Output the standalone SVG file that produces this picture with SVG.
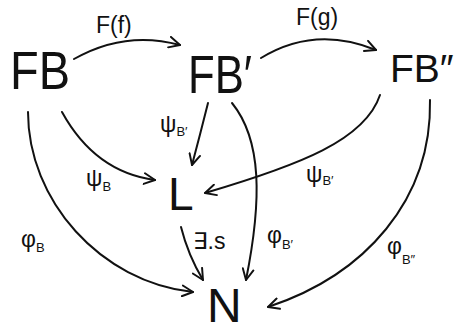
<svg xmlns="http://www.w3.org/2000/svg" width="458" height="335" viewBox="0 0 458 335">
<style>
  .obj { font-family: "Liberation Sans", "DejaVu Sans", sans-serif; fill: #111; }
  .lbl { font-family: "Liberation Sans", "DejaVu Sans", sans-serif; fill: #111; font-size: 23px; }
  .sub { font-size: 13px; }
  .edge { fill: none; stroke: #111; stroke-width: 2; stroke-linecap: round; }
</style>
<defs>
  <marker id="arr" viewBox="0 0 12 12" refX="11" refY="6" markerWidth="13" markerHeight="13" markerUnits="userSpaceOnUse" orient="auto">
    <path d="M1,1 L11,6 L1,11" fill="none" stroke="#111" stroke-width="1.8" stroke-linecap="round" stroke-linejoin="round"/>
  </marker>
</defs>
<rect width="458" height="335" fill="#fff"/>

<g id="edges">
  <path class="edge" marker-end="url(#arr)" d="M74,59 Q125,30 180,45"/>
  <path class="edge" marker-end="url(#arr)" d="M261,58 Q315,25 376,50"/>
  <path class="edge" marker-end="url(#arr)" d="M62,112 Q95,172 155,180"/>
  <path class="edge" marker-end="url(#arr)" d="M208,103 Q200,135 192,165"/>
  <path class="edge" marker-end="url(#arr)" d="M380,95 C365,140 300,165 205,193"/>
  <path class="edge" marker-end="url(#arr)" d="M232,103 C262,140 262,200 246,280"/>
  <path class="edge" marker-end="url(#arr)" d="M181,227 Q188,255 203,280"/>
  <path class="edge" marker-end="url(#arr)" d="M28,112 C28,200 100,282 193,292"/>
  <path class="edge" marker-end="url(#arr)" d="M430,100 C432,200 365,275 268,307"/>
</g>

<g id="FB"><text class="obj" x="10" y="89" font-size="54" textLength="60" lengthAdjust="spacingAndGlyphs">FB</text></g>
<g id="FBp"><text class="obj" x="188" y="93" font-size="54" textLength="64" lengthAdjust="spacingAndGlyphs">FB′</text></g>
<g id="FBpp"><text class="obj" x="390" y="82" font-size="39">FB″</text></g>
<g id="L"><text class="obj" x="168" y="210" font-size="46">L</text></g>
<g id="N"><text class="obj" x="207" y="322" font-size="48">N</text></g>

<g id="labels">
  <text class="lbl" x="96" y="33" font-size="22">F(f)</text>
  <text class="lbl" x="296" y="25" font-size="22">F(g)</text>
  <text class="lbl" x="160" y="132">ψ<tspan class="sub" dy="4">B′</tspan></text>
  <text class="lbl" x="86" y="186">ψ<tspan class="sub" dy="5">B</tspan></text>
  <text class="lbl" x="306" y="182">ψ<tspan class="sub" dy="3">B′</tspan></text>
  <text class="lbl" x="21" y="247">φ<tspan class="sub" dy="5">B</tspan></text>
  <text class="lbl" x="193" y="249" font-size="16">∃.s</text>
  <text class="lbl" x="267" y="243">φ<tspan class="sub" dy="6">B′</tspan></text>
  <text class="lbl" x="387" y="254">φ<tspan class="sub" dy="10">B″</tspan></text>
</g>
</svg>
